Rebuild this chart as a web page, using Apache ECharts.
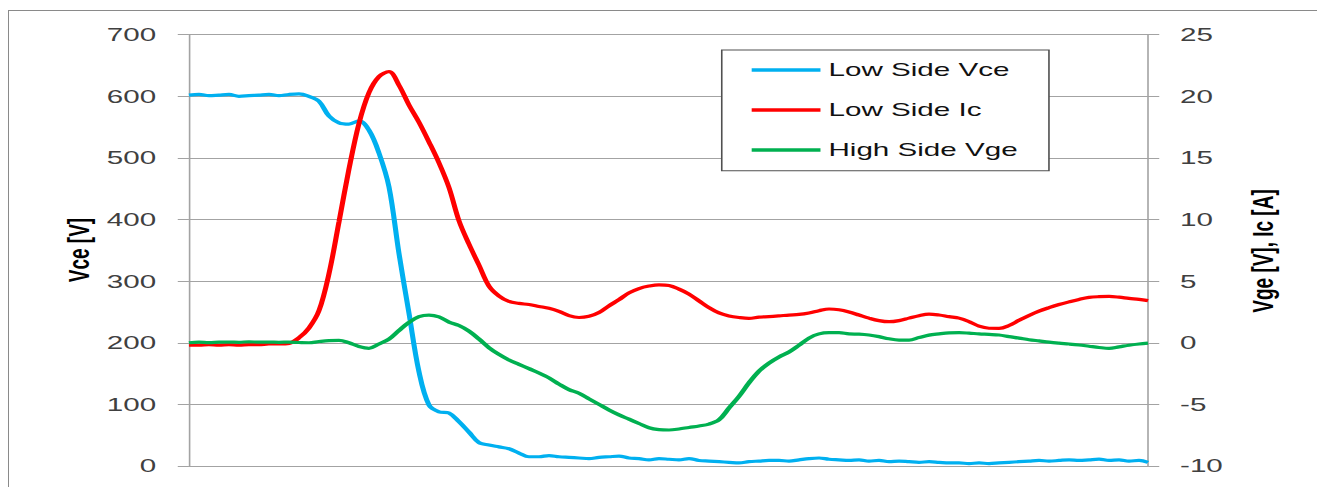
<!DOCTYPE html>
<html>
<head>
<meta charset="utf-8">
<script src="https://cdn.jsdelivr.net/npm/echarts@6/dist/echarts.min.js"></script>
<style>
  html, body { margin: 0; padding: 0; background: #fff; overflow: hidden; width: 1317px; height: 487px; position: relative; }
  /* the chart is laid out narrow and widened horizontally */
  #chart { position: absolute; left: 0; top: 0; width: 823.125px; height: 487px; transform: scaleX(1.6); transform-origin: 0 0; }
  /* outer chart frame (top and left edges in view) */
  #frame { position: absolute; left: 8px; top: 10px; width: 1307.5px; height: 476px;
           border-top: 1px solid #8a8a8a; border-left: 1.5px solid #8a8a8a; pointer-events: none; }
</style>
</head>
<body>
<div id="chart"></div>
<div id="frame"></div>
<script>
// Sample times (ns)
const time = [
  0, 10, 20, 30, 40, 50, 60, 70, 80, 90,
  100, 110, 120, 130, 140, 150, 160, 170, 180, 190,
  200, 210, 220, 230, 240, 250, 260, 270, 280, 290,
  300, 310, 320, 330, 340, 350, 360, 370, 380, 390,
  400, 410, 420, 430, 440, 450, 460, 470, 480, 490,
  500, 510, 520, 530, 540, 550, 560, 570, 580, 590,
  600, 610, 620, 630, 640, 650, 660, 670, 680, 690,
  700, 710, 720, 730, 740, 750, 760, 770, 780, 790,
  800, 810, 820, 830, 840, 850, 860, 870, 880, 890,
  900, 910, 920, 930, 940, 950, 959
];

// Low side collector-emitter voltage [V]
const lowSideVce = [
  602, 603, 601, 602, 603, 600, 601, 602, 603, 601,
  603, 604, 600, 592, 568, 557, 555, 560, 545, 508,
  453, 345, 248, 153, 99, 88, 86, 72, 55, 38,
  34, 31, 28, 21, 15, 15, 17, 15, 14, 13,
  12, 14, 15, 16, 13, 12, 10, 12, 11, 10,
  12, 9, 8, 7, 6, 5, 7, 8, 9, 9,
  8, 10, 12, 13, 11, 10, 9, 10, 8, 9,
  7, 8, 7, 6, 7, 6, 5, 5, 4, 5,
  4, 5, 6, 7, 8, 9, 8, 9, 10, 9,
  10, 11, 9, 10, 8, 9, 6
];

// Low side collector current [A]
const lowSideIc = [
  -0.2, -0.2, -0.15, -0.2, -0.15, -0.2, -0.15, -0.15, -0.1, -0.1,
  -0.05, 0.4, 1.2, 2.6, 5.6, 9.8, 14.1, 17.8, 20.3, 21.6,
  22.0, 20.9, 19.3, 17.9, 16.3, 14.6, 12.6, 9.9, 8.0, 6.3,
  4.6, 3.8, 3.35, 3.2, 3.1, 2.95, 2.8, 2.55, 2.2, 2.05,
  2.15, 2.45, 3.0, 3.5, 4.05, 4.4, 4.6, 4.7, 4.65, 4.35,
  3.95, 3.4, 2.85, 2.42, 2.18, 2.05, 1.98, 2.08, 2.12, 2.18,
  2.25, 2.3, 2.42, 2.6, 2.74, 2.68, 2.5, 2.25, 2.0, 1.8,
  1.71, 1.8, 2.0, 2.2, 2.32, 2.25, 2.12, 2.0, 1.72, 1.35,
  1.18, 1.17, 1.4, 1.82, 2.22, 2.57, 2.85, 3.1, 3.32, 3.52,
  3.68, 3.74, 3.76, 3.7, 3.6, 3.52, 3.42
];

// High side gate-emitter voltage [V]
const highSideVge = [
  0.0, 0.05, 0.02, 0.05, 0.06, 0.04, 0.08, 0.05, 0.06, 0.04,
  0.05, 0.02, 0.0, 0.1, 0.18, 0.2, 0.0, -0.3, -0.45, -0.1,
  0.3, 1.0, 1.65, 2.12, 2.25, 2.1, 1.68, 1.4, 0.95, 0.3,
  -0.4, -0.95, -1.4, -1.75, -2.1, -2.45, -2.85, -3.35, -3.8, -4.1,
  -4.55, -5.0, -5.45, -5.85, -6.2, -6.55, -6.9, -7.05, -7.08, -7.0,
  -6.87, -6.75, -6.6, -6.25, -5.3, -4.35, -3.25, -2.3, -1.65, -1.15,
  -0.75, -0.2, 0.38, 0.72, 0.82, 0.82, 0.72, 0.7, 0.63, 0.5,
  0.32, 0.22, 0.22, 0.42, 0.62, 0.72, 0.8, 0.82, 0.78, 0.72,
  0.68, 0.63, 0.5, 0.38, 0.25, 0.15, 0.05, -0.03, -0.1, -0.18,
  -0.28, -0.38, -0.45, -0.33, -0.2, -0.1, -0.03
];

// Axis tick labels
const vceTicks = [0, 100, 200, 300, 400, 500, 600, 700];
const vgeIcTicks = [-10, -5, 0, 5, 10, 15, 20, 25];

const seriesNames = ['Low Side Vce', 'Low Side Ic', 'High Side Vge'];
const seriesColors = ['#00b0f0', '#ff0000', '#00b050'];
const leftTitle = 'Vce [V]';
const rightTitle = 'Vge [V], Ic [A]';

const FONT = 'Liberation Sans';
const GRID_COLOR = '#a3a3a3';
const LABEL_COLOR = '#404040';

function pairs(ys) { return time.map((t, i) => [t, ys[i]]); }

const chart = echarts.init(document.getElementById('chart'), null, {
  renderer: 'svg', width: 823.125, height: 487
});

const valueAxisBase = {
  type: 'value',
  axisLine: { show: true, lineStyle: { color: GRID_COLOR, width: 1 } },
  axisTick: { show: true, length: 7, lineStyle: { color: GRID_COLOR, width: 1 } },
  axisLabel: { color: LABEL_COLOR, fontSize: 18.5, fontFamily: FONT, margin: 20.5 },
};

function lineSeries(k, axisIndex, values) {
  return {
    name: seriesNames[k], type: 'line', yAxisIndex: axisIndex, data: pairs(values),
    symbol: 'none', smooth: 0.35,
    lineStyle: { color: seriesColors[k], width: 3.2 },
    itemStyle: { color: seriesColors[k] }
  };
}

chart.setOption({
  animation: false,
  backgroundColor: 'transparent',
  textStyle: { fontFamily: FONT },
  grid: { left: 118.1, right: 105.6, top: 34.7, bottom: 21 },
  xAxis: {
    type: 'value',
    min: time[0],
    max: time[time.length - 1],
    show: false
  },
  yAxis: [
    Object.assign({}, valueAxisBase, {
      position: 'left',
      min: vceTicks[0],
      max: vceTicks[vceTicks.length - 1],
      interval: vceTicks[1] - vceTicks[0],
      splitLine: { show: true, lineStyle: { color: GRID_COLOR, width: 1 } }
    }),
    Object.assign({}, valueAxisBase, {
      position: 'right',
      min: vgeIcTicks[0],
      max: vgeIcTicks[vgeIcTicks.length - 1],
      interval: vgeIcTicks[1] - vgeIcTicks[0],
      splitLine: { show: false },
      axisLabel: { color: LABEL_COLOR, fontSize: 18.5, fontFamily: FONT, margin: 20 }
    })
  ],
  legend: {
    orient: 'vertical',
    z: 20,
    left: 469.8,
    top: 60,
    padding: 0,
    icon: 'rect',
    itemWidth: 43,
    itemHeight: 3.5,
    itemGap: 20,
    textStyle: { fontSize: 18.5, lineHeight: 20, fontFamily: FONT, color: '#111111' },
    data: seriesNames
  },
  graphic: [
    {
      // legend frame
      type: 'rect', silent: true, z: 5,
      shape: { x: 451.1, y: 50, width: 204.5, height: 120.7 },
      style: { fill: '#ffffff', stroke: '#505050', lineWidth: 1 }
    },
    {
      type: 'text', silent: true, x: 48.9, y: 250, rotation: Math.PI / 2,
      style: { text: leftTitle, fontSize: 19, fontWeight: 'bold', fontFamily: FONT,
               fill: '#000000', align: 'center', verticalAlign: 'middle' }
    },
    {
      type: 'text', silent: true, x: 789, y: 251, rotation: Math.PI / 2,
      style: { text: rightTitle, fontSize: 19, fontWeight: 'bold', fontFamily: FONT,
               fill: '#000000', align: 'center', verticalAlign: 'middle' }
    }
  ],
  series: [
    lineSeries(0, 0, lowSideVce),
    lineSeries(1, 1, lowSideIc),
    lineSeries(2, 1, highSideVge)
  ]
});
</script>
</body>
</html>
